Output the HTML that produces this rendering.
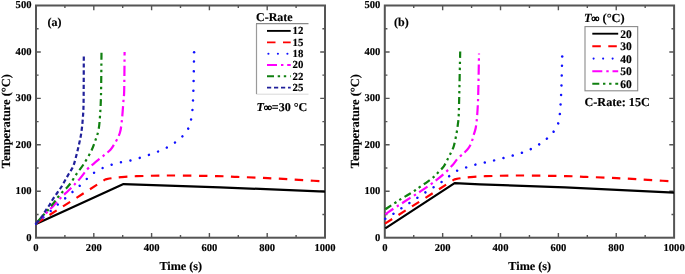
<!DOCTYPE html>
<html><head><meta charset="utf-8"><title>Temperature vs time</title>
<style>
html,body{margin:0;padding:0;background:#fff;}
body{width:685px;height:274px;overflow:hidden;}
svg{display:block;}
text{font-family:"Liberation Serif",serif;font-weight:bold;fill:#000;stroke:#000;stroke-width:0.15px;}
svg{will-change:transform;filter:blur(0.35px);text-rendering:geometricPrecision;}
.tl{font-size:10.6px;}
.at{font-size:12px;}
.lga{font-size:10.8px;}
.lgb{font-size:11.5px;}
</style></head><body>
<svg width="685" height="274" viewBox="0 0 685 274">
<rect width="685" height="274" fill="#fff"/>
<path d="M64.90 237.70 V235.10 M64.90 5.50 V8.10 M93.80 237.70 V232.90 M93.80 5.50 V10.30 M122.70 237.70 V235.10 M122.70 5.50 V8.10 M151.60 237.70 V232.90 M151.60 5.50 V10.30 M180.50 237.70 V235.10 M180.50 5.50 V8.10 M209.40 237.70 V232.90 M209.40 5.50 V10.30 M238.30 237.70 V235.10 M238.30 5.50 V8.10 M267.20 237.70 V232.90 M267.20 5.50 V10.30 M296.10 237.70 V235.10 M296.10 5.50 V8.10 M36.00 214.48 H38.60 M325.00 214.48 H322.40 M36.00 191.26 H40.80 M325.00 191.26 H320.20 M36.00 168.04 H38.60 M325.00 168.04 H322.40 M36.00 144.82 H40.80 M325.00 144.82 H320.20 M36.00 121.60 H38.60 M325.00 121.60 H322.40 M36.00 98.38 H40.80 M325.00 98.38 H320.20 M36.00 75.16 H38.60 M325.00 75.16 H322.40 M36.00 51.94 H40.80 M325.00 51.94 H320.20 M36.00 28.72 H38.60 M325.00 28.72 H322.40" stroke="#555" stroke-width="1.4" fill="none"/>
<rect x="36.00" y="5.50" width="289.00" height="232.20" fill="none" stroke="#555" stroke-width="2"/>
<text x="36.00" y="251.2" text-anchor="middle" class="tl">0</text>
<text x="93.80" y="251.2" text-anchor="middle" class="tl">200</text>
<text x="151.60" y="251.2" text-anchor="middle" class="tl">400</text>
<text x="209.40" y="251.2" text-anchor="middle" class="tl">600</text>
<text x="267.20" y="251.2" text-anchor="middle" class="tl">800</text>
<text x="325.00" y="251.2" text-anchor="middle" class="tl">1000</text>
<text x="31.50" y="240.50" text-anchor="end" class="tl">0</text>
<text x="31.50" y="194.06" text-anchor="end" class="tl">100</text>
<text x="31.50" y="147.62" text-anchor="end" class="tl">200</text>
<text x="31.50" y="101.18" text-anchor="end" class="tl">300</text>
<text x="31.50" y="54.74" text-anchor="end" class="tl">400</text>
<text x="31.50" y="8.30" text-anchor="end" class="tl">500</text>
<text x="180.80" y="269.6" text-anchor="middle" class="at" style="font-size:12.2px">Time (s)</text>
<text transform="translate(10.40 121.20) rotate(-90)" text-anchor="middle" class="at" style="font-size:12.4px">Temperature (°C)</text>
<path d="M413.73 237.70 V235.10 M413.73 5.50 V8.10 M442.66 237.70 V232.90 M442.66 5.50 V10.30 M471.59 237.70 V235.10 M471.59 5.50 V8.10 M500.52 237.70 V232.90 M500.52 5.50 V10.30 M529.45 237.70 V235.10 M529.45 5.50 V8.10 M558.38 237.70 V232.90 M558.38 5.50 V10.30 M587.31 237.70 V235.10 M587.31 5.50 V8.10 M616.24 237.70 V232.90 M616.24 5.50 V10.30 M645.17 237.70 V235.10 M645.17 5.50 V8.10 M384.80 214.48 H387.40 M674.10 214.48 H671.50 M384.80 191.26 H389.60 M674.10 191.26 H669.30 M384.80 168.04 H387.40 M674.10 168.04 H671.50 M384.80 144.82 H389.60 M674.10 144.82 H669.30 M384.80 121.60 H387.40 M674.10 121.60 H671.50 M384.80 98.38 H389.60 M674.10 98.38 H669.30 M384.80 75.16 H387.40 M674.10 75.16 H671.50 M384.80 51.94 H389.60 M674.10 51.94 H669.30 M384.80 28.72 H387.40 M674.10 28.72 H671.50" stroke="#555" stroke-width="1.4" fill="none"/>
<rect x="384.80" y="5.50" width="289.30" height="232.20" fill="none" stroke="#555" stroke-width="2"/>
<text x="384.80" y="251.2" text-anchor="middle" class="tl">0</text>
<text x="442.66" y="251.2" text-anchor="middle" class="tl">200</text>
<text x="500.52" y="251.2" text-anchor="middle" class="tl">400</text>
<text x="558.38" y="251.2" text-anchor="middle" class="tl">600</text>
<text x="616.24" y="251.2" text-anchor="middle" class="tl">800</text>
<text x="674.10" y="251.2" text-anchor="middle" class="tl">1000</text>
<text x="380.30" y="240.50" text-anchor="end" class="tl">0</text>
<text x="380.30" y="194.06" text-anchor="end" class="tl">100</text>
<text x="380.30" y="147.62" text-anchor="end" class="tl">200</text>
<text x="380.30" y="101.18" text-anchor="end" class="tl">300</text>
<text x="380.30" y="54.74" text-anchor="end" class="tl">400</text>
<text x="380.30" y="8.30" text-anchor="end" class="tl">500</text>
<text x="529.75" y="269.6" text-anchor="middle" class="at" style="font-size:12.2px">Time (s)</text>
<text transform="translate(359.20 121.20) rotate(-90)" text-anchor="middle" class="at" style="font-size:12.4px">Temperature (°C)</text>
<path d="M36.00 224.00 L123.50 184.10 L220.00 187.30 L325.00 191.70" fill="none" stroke="#000000" stroke-width="2.2" stroke-dasharray="none" stroke-linecap="butt" stroke-linejoin="round"/>
<path d="M36.00 223.60 L105.40 179.40 C106.50 179.20 109.40 178.58 112.00 178.20 C114.60 177.82 116.87 177.43 121.00 177.10 C125.13 176.77 128.63 176.47 136.80 176.20 C144.97 175.93 156.63 175.52 170.00 175.50 C183.37 175.48 205.83 175.87 217.00 176.10 C228.17 176.33 230.33 176.65 237.00 176.90 C243.67 177.15 251.00 177.35 257.00 177.60 C263.00 177.85 267.67 178.12 273.00 178.40 C278.33 178.68 283.50 178.98 289.00 179.30 C294.50 179.62 300.00 179.95 306.00 180.30 C312.00 180.65 321.83 181.22 325.00 181.40" fill="none" stroke="#ff0000" stroke-width="2.2" stroke-dasharray="8.5 7.5" stroke-linecap="butt" stroke-linejoin="round"/>
<path d="M36.00 223.60 C37.30 222.50 41.35 219.10 43.80 217.00 C46.25 214.90 48.47 213.00 50.70 211.00 C52.93 209.00 54.92 207.00 57.20 205.00 C59.48 203.00 62.07 201.00 64.40 199.00 C66.73 197.00 69.02 194.87 71.20 193.00 C73.38 191.13 75.22 189.83 77.50 187.80 C79.78 185.77 82.50 183.05 84.90 180.80 C87.30 178.55 89.30 176.27 91.90 174.30 C94.50 172.33 97.55 170.48 100.50 169.00 C103.45 167.52 106.58 166.43 109.60 165.40 C112.62 164.37 115.53 163.53 118.60 162.80 C121.67 162.07 124.92 161.68 128.00 161.00 C131.08 160.32 134.08 159.57 137.10 158.70 C140.12 157.83 143.10 156.80 146.10 155.80 C149.10 154.80 152.20 153.80 155.10 152.70 C158.00 151.60 160.77 150.50 163.50 149.20 C166.23 147.90 168.97 146.48 171.50 144.90 C174.03 143.32 176.32 141.75 178.70 139.70 C181.08 137.65 183.98 134.98 185.80 132.60 C187.62 130.22 188.68 127.78 189.60 125.40 C190.52 123.02 190.83 120.67 191.30 118.30 C191.77 115.93 192.05 115.92 192.40 111.20 C192.75 106.48 193.12 99.82 193.40 90.00 C193.68 80.18 193.98 58.58 194.10 52.30" pathLength="256.500" fill="none" stroke="#1010ff" stroke-width="2.5" stroke-dasharray="0.01 9.5" stroke-linecap="round" stroke-linejoin="round"/><circle cx="194.10" cy="52.30" r="1.25" fill="#1010ff"/>
<path d="M36.00 223.60 C37.57 221.97 42.55 216.70 45.40 213.80 C48.25 210.90 50.67 208.75 53.10 206.20 C55.53 203.65 57.43 201.12 60.00 198.50 C62.57 195.88 66.25 192.67 68.50 190.50 C70.75 188.33 71.60 187.48 73.50 185.50 C75.40 183.52 77.60 181.30 79.90 178.60 C82.20 175.90 84.93 171.85 87.30 169.30 C89.67 166.75 91.52 165.47 94.10 163.30 C96.68 161.13 100.07 158.57 102.80 156.30 C105.53 154.03 108.47 151.92 110.50 149.70 C112.53 147.48 113.67 145.20 115.00 143.00 C116.33 140.80 117.57 138.67 118.50 136.50 C119.43 134.33 119.98 133.25 120.60 130.00 C121.22 126.75 121.72 122.00 122.20 117.00 C122.68 112.00 123.17 104.50 123.50 100.00 C123.83 95.50 124.02 98.00 124.20 90.00 C124.38 82.00 124.53 58.33 124.60 52.00" fill="none" stroke="#ff00ff" stroke-width="2.2" stroke-dasharray="10 4 2.4 3.8" stroke-linecap="butt" stroke-linejoin="round"/>
<path d="M36.00 223.60 C37.00 222.43 39.97 218.92 42.00 216.60 C44.03 214.28 46.08 212.20 48.20 209.70 C50.32 207.20 53.02 203.75 54.70 201.60 C56.38 199.45 57.00 198.40 58.30 196.80 C59.60 195.20 60.97 193.63 62.50 192.00 C64.03 190.37 66.00 188.67 67.50 187.00 C69.00 185.33 69.98 184.20 71.50 182.00 C73.02 179.80 74.67 176.63 76.60 173.80 C78.53 170.97 80.73 168.65 83.10 165.00 C85.47 161.35 88.82 155.82 90.80 151.90 C92.78 147.98 93.72 145.15 95.00 141.50 C96.28 137.85 97.67 134.25 98.50 130.00 C99.33 125.75 99.58 121.83 100.00 116.00 C100.42 110.17 100.75 105.67 101.00 95.00 C101.25 84.33 101.42 59.17 101.50 52.00" fill="none" stroke="#108010" stroke-width="2.2" stroke-dasharray="7 3.7 2.4 3.7 2.4 3.8" stroke-linecap="butt" stroke-linejoin="round"/>
<path d="M36.00 223.60 C36.93 222.50 40.02 219.13 41.60 217.00 C43.18 214.87 44.18 212.80 45.50 210.80 C46.82 208.80 48.25 206.97 49.50 205.00 C50.75 203.03 51.72 201.00 53.00 199.00 C54.28 197.00 55.87 194.92 57.20 193.00 C58.53 191.08 59.70 189.58 61.00 187.50 C62.30 185.42 63.67 182.83 65.00 180.50 C66.33 178.17 67.62 175.92 69.00 173.50 C70.38 171.08 72.03 169.17 73.30 166.00 C74.57 162.83 75.62 158.25 76.60 154.50 C77.58 150.75 78.40 147.22 79.20 143.50 C80.00 139.78 80.77 136.78 81.40 132.20 C82.03 127.62 82.63 121.37 83.00 116.00 C83.37 110.63 83.47 110.00 83.60 100.00 C83.73 90.00 83.77 63.33 83.80 56.00" fill="none" stroke="#20209a" stroke-width="2.2" stroke-dasharray="4.2 2.8" stroke-linecap="butt" stroke-linejoin="round"/>
<path d="M385.30 228.40 L454.60 183.20 L480.00 184.30 L565.00 187.30 L674.00 192.60" fill="none" stroke="#000000" stroke-width="2.2" stroke-dasharray="none" stroke-linecap="butt" stroke-linejoin="round"/>
<path d="M385.00 223.60 L454.40 179.40 C455.50 179.20 458.40 178.58 461.00 178.20 C463.60 177.82 465.87 177.43 470.00 177.10 C474.13 176.77 477.63 176.47 485.80 176.20 C493.97 175.93 505.63 175.52 519.00 175.50 C532.37 175.48 554.83 175.87 566.00 176.10 C577.17 176.33 579.33 176.65 586.00 176.90 C592.67 177.15 600.00 177.35 606.00 177.60 C612.00 177.85 616.67 178.12 622.00 178.40 C627.33 178.68 632.50 178.98 638.00 179.30 C643.50 179.62 649.00 179.95 655.00 180.30 C661.00 180.65 670.83 181.22 674.00 181.40" fill="none" stroke="#ff0000" stroke-width="2.2" stroke-dasharray="8.5 7.5" stroke-linecap="butt" stroke-linejoin="round"/>
<path d="M385.30 218.80 C386.65 217.97 390.65 215.60 393.40 213.80 C396.15 212.00 399.18 209.77 401.80 208.00 C404.42 206.23 406.67 204.80 409.10 203.20 C411.53 201.60 413.85 200.10 416.40 198.40 C418.95 196.70 421.70 194.75 424.40 193.00 C427.10 191.25 429.92 189.60 432.60 187.90 C435.28 186.20 437.93 184.62 440.50 182.80 C443.07 180.98 445.28 178.98 448.00 177.00 C450.72 175.02 453.80 172.48 456.80 170.90 C459.80 169.32 462.88 168.55 466.00 167.50 C469.12 166.45 472.38 165.42 475.50 164.60 C478.62 163.78 481.67 163.28 484.70 162.60 C487.73 161.92 490.62 161.25 493.70 160.50 C496.78 159.75 500.12 158.90 503.20 158.10 C506.28 157.30 509.23 156.53 512.20 155.70 C515.17 154.87 518.08 154.12 521.00 153.10 C523.92 152.08 526.83 150.95 529.70 149.60 C532.57 148.25 535.52 146.67 538.20 145.00 C540.88 143.33 543.42 141.60 545.80 139.60 C548.18 137.60 550.60 135.25 552.50 133.00 C554.40 130.75 556.13 128.27 557.20 126.10 C558.27 123.93 558.43 122.28 558.90 120.00 C559.37 117.72 559.60 117.40 560.00 112.40 C560.40 107.40 560.93 99.30 561.30 90.00 C561.67 80.70 562.05 62.17 562.20 56.60" pathLength="266.000" fill="none" stroke="#1010ff" stroke-width="2.5" stroke-dasharray="0.01 9.5" stroke-linecap="round" stroke-linejoin="round"/><circle cx="562.20" cy="56.60" r="1.25" fill="#1010ff"/>
<path d="M385.30 214.30 C386.00 213.82 387.75 212.60 389.50 211.40 C391.25 210.20 393.47 208.62 395.80 207.10 C398.13 205.58 400.80 204.02 403.50 202.30 C406.20 200.58 409.12 198.65 412.00 196.80 C414.88 194.95 417.92 193.10 420.80 191.20 C423.68 189.30 426.60 187.33 429.30 185.40 C432.00 183.47 434.48 181.60 437.00 179.60 C439.52 177.60 441.83 175.78 444.40 173.40 C446.97 171.02 450.17 167.78 452.40 165.30 C454.63 162.82 455.78 160.63 457.80 158.50 C459.82 156.37 462.72 154.22 464.50 152.50 C466.28 150.78 467.33 149.87 468.50 148.20 C469.67 146.53 470.62 144.78 471.50 142.50 C472.38 140.22 473.08 137.00 473.80 134.50 C474.52 132.00 475.23 130.75 475.80 127.50 C476.37 124.25 476.80 120.42 477.20 115.00 C477.60 109.58 477.90 105.23 478.20 95.00 C478.50 84.77 478.87 60.50 479.00 53.60" fill="none" stroke="#ff00ff" stroke-width="2.2" stroke-dasharray="10 4 2.4 3.8" stroke-linecap="butt" stroke-linejoin="round"/>
<path d="M385.30 209.20 C385.63 209.00 385.75 209.00 387.30 208.00 C388.85 207.00 392.55 204.55 394.60 203.20 C396.65 201.85 397.55 201.18 399.60 199.90 C401.65 198.62 404.35 197.07 406.90 195.50 C409.45 193.93 412.72 191.95 414.90 190.50 C417.08 189.05 417.87 188.28 420.00 186.80 C422.13 185.32 425.33 183.30 427.70 181.60 C430.07 179.90 432.40 178.20 434.20 176.60 C436.00 175.00 436.90 173.72 438.50 172.00 C440.10 170.28 442.22 168.55 443.80 166.30 C445.38 164.05 446.80 160.78 448.00 158.50 C449.20 156.22 450.02 154.72 451.00 152.60 C451.98 150.48 453.00 148.88 453.90 145.80 C454.80 142.72 455.75 137.58 456.40 134.10 C457.05 130.62 457.42 128.00 457.80 124.90 C458.18 121.80 458.47 120.08 458.70 115.50 C458.93 110.92 458.95 108.08 459.20 97.40 C459.45 86.72 460.03 59.07 460.20 51.40" fill="none" stroke="#108010" stroke-width="2.2" stroke-dasharray="7 3.7 2.4 3.7 2.4 3.8" stroke-linecap="butt" stroke-linejoin="round"/>
<text x="47.5" y="25.5" class="at">(a)</text>
<text x="394.1" y="25.8" class="at">(b)</text>
<text x="256" y="21" class="at">C-Rate</text>
<path d="M256.5 23.7 V94.2" fill="none" stroke="#9a9a9a" stroke-width="1.2"/>
<path d="M256 23.7 H308.5" fill="none" stroke="#8a8a8a" stroke-width="1.2"/>
<path d="M257 94.2 H308.5" fill="none" stroke="#d8d8d8" stroke-width="1"/>
<path d="M267.00 30.90 H290.70" fill="none" stroke="#000000" stroke-width="1.87" stroke-dasharray="none" stroke-linecap="butt"/>
<text x="292.6" y="34.30" class="lga">12</text>
<path d="M267.00 42.40 H290.70" fill="none" stroke="#ff0000" stroke-width="1.87" stroke-dasharray="8.5 7.5" stroke-linecap="butt"/>
<text x="292.6" y="45.80" class="lga">15</text>
<path d="M268.40 53.80 H290.70" fill="none" stroke="#1010ff" stroke-width="2.12" stroke-dasharray="0.01 9.5" stroke-linecap="round"/>
<text x="292.6" y="57.20" class="lga">18</text>
<path d="M267.00 65.00 H290.70" fill="none" stroke="#ff00ff" stroke-width="1.87" stroke-dasharray="10 4 2.4 3.8" stroke-linecap="butt"/>
<text x="292.6" y="68.40" class="lga">20</text>
<path d="M267.00 76.30 H290.70" fill="none" stroke="#108010" stroke-width="1.87" stroke-dasharray="7 3.7 2.4 3.7 2.4 3.8" stroke-linecap="butt"/>
<text x="292.6" y="79.70" class="lga">22</text>
<path d="M267.00 87.60 H290.70" fill="none" stroke="#20209a" stroke-width="1.87" stroke-dasharray="4.2 2.8" stroke-linecap="butt"/>
<text x="292.6" y="91.00" class="lga">25</text>
<text x="256.5" y="111.4" class="at" style="font-size:12.1px"><tspan font-style="italic">T</tspan><tspan style="font-size:11px;stroke-width:0.6">∞</tspan>=30 °C</text>
<text x="584" y="21.5" class="at" style="font-size:12.4px"><tspan font-style="italic">T</tspan><tspan style="font-size:11px;stroke-width:0.6">∞</tspan> (°C)</text>
<rect x="585" y="26.6" width="52.7" height="64.2" fill="none" stroke="#8a8a8a" stroke-width="1.1"/>
<path d="M592.30 33.70 H618.20" fill="none" stroke="#000000" stroke-width="1.87" stroke-dasharray="none" stroke-linecap="butt"/>
<text x="620.3" y="37.60" class="lgb">20</text>
<path d="M592.30 46.20 H618.20" fill="none" stroke="#ff0000" stroke-width="1.87" stroke-dasharray="8.5 7.5" stroke-linecap="butt"/>
<text x="620.3" y="50.10" class="lgb">30</text>
<path d="M593.60 58.60 H618.20" fill="none" stroke="#1010ff" stroke-width="2.12" stroke-dasharray="0.01 9.5" stroke-linecap="round"/>
<text x="620.3" y="62.50" class="lgb">40</text>
<path d="M592.30 71.20 H618.20" fill="none" stroke="#ff00ff" stroke-width="1.87" stroke-dasharray="10 4 2.4 3.8" stroke-linecap="butt"/>
<text x="620.3" y="75.10" class="lgb">50</text>
<path d="M592.30 83.80 H618.20" fill="none" stroke="#108010" stroke-width="1.87" stroke-dasharray="7 3.7 2.4 3.7 2.4 3.8" stroke-linecap="butt"/>
<text x="620.3" y="87.70" class="lgb">60</text>
<text x="584.5" y="106" class="at" style="font-size:12.2px">C-Rate: 15C</text>
</svg>
</body></html>
